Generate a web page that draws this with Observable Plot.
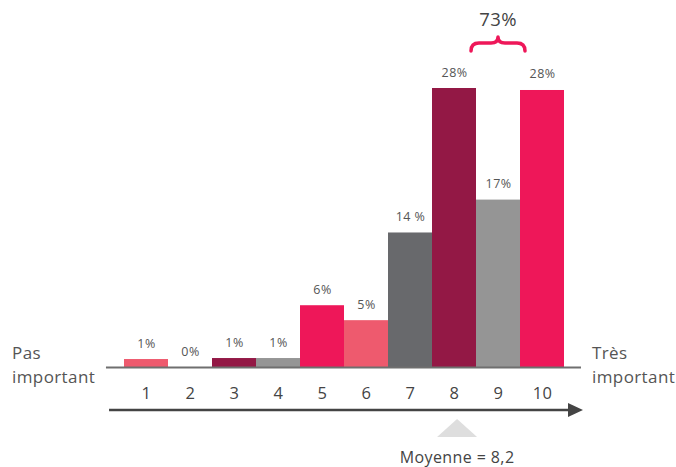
<!DOCTYPE html>
<html><head><meta charset="utf-8">
<script src="https://cdn.jsdelivr.net/npm/d3@7"></script>
<script src="https://cdn.jsdelivr.net/npm/@observablehq/plot@0.6"></script>
<style>
html,body{margin:0;padding:0;background:#fff;}
#chart svg{font-family:"Open Sans",sans-serif;letter-spacing:0.04em;}
</style></head><body><div id="chart"></div>
<script>
const scores = [1, 2, 3, 4, 5, 6, 7, 8, 9, 10];
const percents = [0.8, 0, 0.9, 0.9, 6.2, 4.7, 13.5, 28, 16.8, 27.8];
const valueLabels = ["1%", "0%", "1%", "1%", "6%", "5%", "14 %", "28%", "17%", "28%"];
const barColors = ["#EE5A6E", "#EE5A6E", "#931845", "#959595", "#EE1759", "#EE5A6E", "#68696C", "#931845", "#959595", "#EE1759"];
const tickLabels = ["1", "2", "3", "4", "5", "6", "7", "8", "9", "10"];
const leftLabel = ["Pas", "important"];
const rightLabel = ["Très", "important"];
const groupCenter = 9;
const groupTotal = "73%";
const meanMarker = 8.07;
const meanLabel = "Moyenne = 8,2";

const data = scores.map((k, i) => ({k, v: percents[i], label: valueLabels[i], color: barColors[i]}));

function decorations(index, scales, values, dim) {
  const x = scales.x, y = scales.y;
  const y0 = y(0);
  const g = d3.create("svg:g").attr("text-anchor", "start");
  // axis arrow
  const ay = y0 + 43;
  g.append("line").attr("x1", x(0.16)).attr("x2", x(10.6)).attr("y1", ay).attr("y2", ay)
    .attr("stroke", "#444").attr("stroke-width", 2.6);
  const tip = x(10.5) + 19;
  g.append("path").attr("d", `M${tip},${ay} L${tip - 15},${ay - 7} L${tip - 15},${ay + 7} Z`).attr("fill", "#444");
  // mean marker
  const mx = x(meanMarker);
  g.append("path").attr("d", `M${mx},${ay + 9} L${mx - 20},${ay + 27} L${mx + 20},${ay + 27} Z`).attr("fill", "#DEDEDE");
  g.append("text").attr("x", mx).attr("y", ay + 53).attr("text-anchor", "middle")
    .attr("font-size", 16).attr("fill", "#444").text(meanLabel);
  // side labels
  const sl = g.append("text").attr("font-size", 17).attr("fill", "#555").attr("text-anchor", "start");
  leftLabel.forEach((t, i) => sl.append("tspan").attr("x", 12).attr("y", y0 - 8 + i * 24).text(t));
  const sr = g.append("text").attr("font-size", 17).attr("fill", "#555").attr("text-anchor", "start");
  rightLabel.forEach((t, i) => sr.append("tspan").attr("x", x(10.5) + 28).attr("y", y0 - 8 + i * 24).text(t));
  // brace
  const bx = x(groupCenter);
  const bl = bx - 27, br = bx + 27, by = 43;
  g.append("path")
    .attr("d", `M${bl},${by + 8} Q${bl},${by} ${bl + 8},${by} L${bx - 7},${by} Q${bx},${by} ${bx},${by - 6} Q${bx},${by} ${bx + 7},${by} L${br - 8},${by} Q${br},${by} ${br},${by + 8}`)
    .attr("fill", "none").attr("stroke", "#EE1759").attr("stroke-width", 3.5).attr("stroke-linecap", "round").attr("stroke-linejoin", "round");
  g.append("text").attr("x", bx).attr("y", 26).attr("text-anchor", "middle")
    .attr("font-size", 18.5).attr("fill", "#444").text(groupTotal);
  return g.node();
}

const chart = Plot.plot({
  width: 676,
  height: 467,
  marginLeft: 124,
  marginRight: 112,
  marginTop: 88,
  marginBottom: 100,
  x: {type: "linear", domain: [0.5, 10.5], axis: null},
  y: {domain: [0, 28], axis: null},
  color: {type: "identity"},
  marks: [
    Plot.rectY(data, {x1: d => d.k - 0.5, x2: d => d.k + 0.5, y: "v", fill: "color"}),
    Plot.ruleY([0], {x1: 0.09, x2: 10.886, stroke: "#6f6f6f", strokeWidth: 2}),
    Plot.text(data, {x: "k", y: "v", text: "label", dy: -16, fontSize: 12.5, fill: "#555"}),
    Plot.axisX(scores, {tickSize: 0, tickPadding: 20, fontSize: 16.5, label: null, fill: "#444",
      tickFormat: d => tickLabels[scores.indexOf(d)]}),
    decorations
  ]
});
document.getElementById("chart").append(chart);
</script></body></html>
